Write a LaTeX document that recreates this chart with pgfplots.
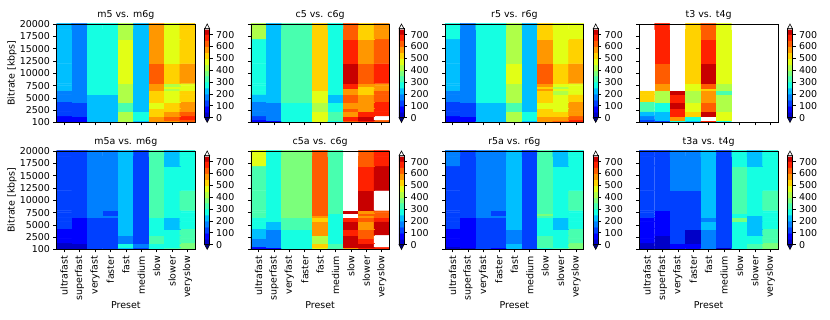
\documentclass[border=0pt]{standalone}
\usepackage{pgfplots}
\pgfplotsset{compat=1.18}
\usepackage{fontspec}
\setmainfont{DejaVu Sans}
\newcommand{\fs}{\fontsize{9.5pt}{11pt}\selectfont}
\definecolor{cunder}{RGB}{0,0,128}
\pgfplotsset{
  colormap={cjet}{
    rgb255(0pt)=(0,0,200) rgb255(49.9pt)=(0,0,200)
    rgb255(50pt)=(0,0,255) rgb255(99.9pt)=(0,0,255)
    rgb255(100pt)=(0,64,255) rgb255(149.9pt)=(0,64,255)
    rgb255(150pt)=(0,128,255) rgb255(199.9pt)=(0,128,255)
    rgb255(200pt)=(0,191,255) rgb255(249.9pt)=(0,191,255)
    rgb255(250pt)=(21,255,226) rgb255(299.9pt)=(21,255,226)
    rgb255(300pt)=(72,255,175) rgb255(349.9pt)=(72,255,175)
    rgb255(350pt)=(123,255,123) rgb255(399.9pt)=(123,255,123)
    rgb255(400pt)=(175,255,72) rgb255(449.9pt)=(175,255,72)
    rgb255(450pt)=(226,255,21) rgb255(499.9pt)=(226,255,21)
    rgb255(500pt)=(255,210,0) rgb255(549.9pt)=(255,210,0)
    rgb255(550pt)=(255,151,0) rgb255(599.9pt)=(255,151,0)
    rgb255(600pt)=(255,92,0) rgb255(649.9pt)=(255,92,0)
    rgb255(650pt)=(255,33,0) rgb255(699.9pt)=(255,33,0)
    rgb255(700pt)=(200,0,0) rgb255(749.9pt)=(200,0,0)
    rgb255(750pt)=(255,255,255) rgb255(800pt)=(255,255,255)
  },
  hm/.style={
    anchor=south west, scale only axis, width=138.7bp, height=98.3bp,
    xmin=-0.5, xmax=8.5, ymin=100, ymax=20000,
    xtick={0,1,2,3,4,5,6,7,8},
    ytick={100,2500,5000,7500,10000,12500,15000,17500,20000},
    tick align=outside, xtick pos=bottom, ytick pos=left,
    major tick length=3bp,
    every tick/.style={black, line width=0.6bp},
    axis line style={line width=0.6bp},
    axis on top,
    scaled y ticks=false,
    tick label style={font=\fs},
    label style={font=\fs},
    every axis title/.style={font=\fs, at={(axis description cs:0.5,1)}, anchor=base, yshift=6bp},
    xticklabels={}, yticklabels={},
    colormap name=cjet, point meta min=0, point meta max=800,
    colorbar,
    colorbar shift/.style={xshift=9.5bp, yshift=-4.75bp},
    colorbar style={
      at={(parent axis.north east)}, anchor=north west,
      scale only axis, width=5bp, height=88.9bp,
      ymin=0, ymax=750,
      ytick={0,100,200,300,400,500,600,700},
      yticklabels={0,100,200,300,400,500,600,700},
      tick align=outside, major tick length=3bp,
      ytick pos=right, yticklabel pos=right,
      every tick/.style={black, line width=0.6bp},
      axis line style={line width=0.6bp},
      tick label style={font=\fs},
      extra description/.code={
        \filldraw[fill=cunder, draw=black, line width=0.6bp] (axis description cs:0,0) -- (axis description cs:1,0) -- (axis description cs:0.5,-0.0534) -- cycle;
        \filldraw[fill=white, draw=black, line width=0.6bp] (axis description cs:0,1) -- (axis description cs:1,1) -- (axis description cs:0.5,1.0534) -- cycle;
      },
    },
  },
  hmleft/.style={yticklabels={100,2500,5000,7500,10000,12500,15000,17500,20000},
    ylabel={Bitrate [kbps]}, ylabel style={at={(axis description cs:-0.321,0.5)}, anchor=center}},
  hmbottom/.style={xticklabels={ultrafast,superfast,veryfast,faster,fast,medium,slow,slower,veryslow},
    xticklabel style={rotate=90, anchor=east},
    xlabel={Preset}, xlabel style={at={(axis description cs:0.5,-0.567)}, anchor=center}},
  cells/.style={matrix plot*, mesh/cols=9, mesh/rows=14, point meta=explicit},
}
\begin{document}
\begin{tikzpicture}
\useasboundingbox (0,0) rectangle (830bp,320bp);
% ---------------- m5 vs. m6g
\begin{axis}[hm, hmleft, at={(56.5bp,197.7bp)}, title={m5 vs. m6g}]
\addplot[cells] coordinates {
(0,150)[75] (1,150)[75] (2,150)[225] (3,150)[225] (4,150)[425] (5,150)[225] (6,150)[575] (7,150)[575] (8,150)[625]
(0,1050)[75] (1,1050)[75] (2,1050)[225] (3,1050)[225] (4,1050)[425] (5,1050)[275] (6,1050)[575] (7,1050)[625] (8,1050)[675]
(0,1750)[125] (1,1750)[125] (2,1750)[225] (3,1750)[225] (4,1750)[425] (5,1750)[275] (6,1750)[525] (7,1750)[575] (8,1750)[625]
(0,2750)[125] (1,2750)[125] (2,2750)[225] (3,2750)[225] (4,2750)[325] (5,2750)[225] (6,2750)[525] (7,2750)[525] (8,2750)[575]
(0,3250)[125] (1,3250)[125] (2,3250)[225] (3,3250)[225] (4,3250)[325] (5,3250)[225] (6,3250)[475] (7,3250)[525] (8,3250)[575]
(0,5250)[175] (1,5250)[175] (2,5250)[225] (3,5250)[225] (4,5250)[425] (5,5250)[225] (6,5250)[525] (7,5250)[475] (8,5250)[525]
(0,6250)[175] (1,6250)[175] (2,6250)[275] (3,6250)[275] (4,6250)[425] (5,6250)[225] (6,6250)[525] (7,6250)[475] (8,6250)[525]
(0,6750)[225] (1,6750)[175] (2,6750)[275] (3,6750)[275] (4,6750)[425] (5,6750)[225] (6,6750)[575] (7,6750)[425] (8,6750)[475]
(0,7250)[225] (1,7250)[175] (2,7250)[275] (3,7250)[275] (4,7250)[425] (5,7250)[225] (6,7250)[575] (7,7250)[475] (8,7250)[475]
(0,7750)[225] (1,7750)[175] (2,7750)[275] (3,7750)[275] (4,7750)[425] (5,7750)[225] (6,7750)[575] (7,7750)[425] (8,7750)[475]
(0,8250)[225] (1,8250)[175] (2,8250)[275] (3,8250)[275] (4,8250)[475] (5,8250)[225] (6,8250)[625] (7,8250)[525] (8,8250)[575]
(0,15750)[225] (1,15750)[175] (2,15750)[275] (3,15750)[275] (4,15750)[475] (5,15750)[225] (6,15750)[575] (7,15750)[475] (8,15750)[525]
(0,18250)[225] (1,18250)[175] (2,18250)[275] (3,18250)[275] (4,18250)[425] (5,18250)[225] (6,18250)[575] (7,18250)[475] (8,18250)[525]
(0,19500)[225] (1,19500)[175] (2,19500)[275] (3,19500)[275] (4,19500)[425] (5,19500)[225] (6,19500)[575] (7,19500)[475] (8,19500)[525]
};
\end{axis}
% ---------------- c5 vs. c6g
\begin{axis}[hm, at={(250.8bp,197.7bp)}, title={c5 vs. c6g}]
\addplot[cells] coordinates {
(0,150)[75] (1,150)[75] (2,150)[275] (3,150)[275] (4,150)[475] (5,150)[275] (6,150)[625] (7,150)[675] (8,150)[625]
(0,1050)[125] (1,1050)[175] (2,1050)[275] (3,1050)[275] (4,1050)[475] (5,1050)[325] (6,1050)[675] (7,1050)[725] (8,1050)[800]
(0,1750)[175] (1,1750)[175] (2,1750)[275] (3,1750)[275] (4,1750)[475] (5,1750)[325] (6,1750)[575] (7,1750)[675] (8,1750)[675]
(0,2750)[175] (1,2750)[175] (2,2750)[275] (3,2750)[275] (4,2750)[425] (5,2750)[275] (6,2750)[625] (7,2750)[575] (8,2750)[675]
(0,3250)[175] (1,3250)[175] (2,3250)[275] (3,3250)[275] (4,3250)[425] (5,3250)[275] (6,3250)[575] (7,3250)[575] (8,3250)[675]
(0,5250)[225] (1,5250)[225] (2,5250)[325] (3,5250)[325] (4,5250)[475] (5,5250)[225] (6,5250)[625] (7,5250)[575] (8,5250)[625]
(0,6250)[275] (1,6250)[225] (2,6250)[325] (3,6250)[325] (4,6250)[475] (5,6250)[275] (6,6250)[575] (7,6250)[525] (8,6250)[625]
(0,6750)[275] (1,6750)[225] (2,6750)[325] (3,6750)[325] (4,6750)[525] (5,6750)[275] (6,6750)[575] (7,6750)[525] (8,6750)[575]
(0,7250)[275] (1,7250)[225] (2,7250)[325] (3,7250)[325] (4,7250)[525] (5,7250)[275] (6,7250)[675] (7,7250)[525] (8,7250)[575]
(0,7750)[275] (1,7750)[225] (2,7750)[325] (3,7750)[325] (4,7750)[525] (5,7750)[275] (6,7750)[675] (7,7750)[575] (8,7750)[575]
(0,8250)[275] (1,8250)[225] (2,8250)[325] (3,8250)[325] (4,8250)[525] (5,8250)[275] (6,8250)[725] (7,8250)[625] (8,8250)[675]
(0,15750)[275] (1,15750)[225] (2,15750)[325] (3,15750)[325] (4,15750)[525] (5,15750)[275] (6,15750)[675] (7,15750)[575] (8,15750)[625]
(0,18250)[425] (1,18250)[225] (2,18250)[325] (3,18250)[325] (4,18250)[525] (5,18250)[275] (6,18250)[625] (7,18250)[525] (8,18250)[575]
(0,19500)[425] (1,19500)[225] (2,19500)[325] (3,19500)[325] (4,19500)[525] (5,19500)[275] (6,19500)[625] (7,19500)[525] (8,19500)[575]
};
\end{axis}
% ---------------- r5 vs. r6g
\begin{axis}[hm, at={(445bp,197.7bp)}, title={r5 vs. r6g}]
\addplot[cells] coordinates {
(0,150)[75] (1,150)[75] (2,150)[225] (3,150)[225] (4,150)[425] (5,150)[225] (6,150)[575] (7,150)[625] (8,150)[675]
(0,1050)[75] (1,1050)[75] (2,1050)[225] (3,1050)[225] (4,1050)[425] (5,1050)[275] (6,1050)[575] (7,1050)[575] (8,1050)[625]
(0,1750)[125] (1,1750)[125] (2,1750)[225] (3,1750)[225] (4,1750)[425] (5,1750)[275] (6,1750)[525] (7,1750)[525] (8,1750)[575]
(0,2750)[125] (1,2750)[125] (2,2750)[225] (3,2750)[225] (4,2750)[325] (5,2750)[225] (6,2750)[525] (7,2750)[475] (8,2750)[575]
(0,3250)[125] (1,3250)[125] (2,3250)[225] (3,3250)[225] (4,3250)[325] (5,3250)[225] (6,3250)[475] (7,3250)[475] (8,3250)[575]
(0,5250)[175] (1,5250)[175] (2,5250)[275] (3,5250)[275] (4,5250)[425] (5,5250)[225] (6,5250)[525] (7,5250)[475] (8,5250)[525]
(0,6250)[175] (1,6250)[175] (2,6250)[275] (3,6250)[275] (4,6250)[425] (5,6250)[225] (6,6250)[525] (7,6250)[425] (8,6250)[475]
(0,6750)[225] (1,6750)[175] (2,6750)[275] (3,6750)[275] (4,6750)[425] (5,6750)[225] (6,6750)[575] (7,6750)[475] (8,6750)[475]
(0,7250)[225] (1,7250)[175] (2,7250)[275] (3,7250)[275] (4,7250)[425] (5,7250)[225] (6,7250)[525] (7,7250)[425] (8,7250)[475]
(0,7750)[225] (1,7750)[175] (2,7750)[275] (3,7750)[275] (4,7750)[425] (5,7750)[225] (6,7750)[575] (7,7750)[475] (8,7750)[475]
(0,8250)[225] (1,8250)[175] (2,8250)[275] (3,8250)[275] (4,8250)[475] (5,8250)[225] (6,8250)[625] (7,8250)[525] (8,8250)[575]
(0,15750)[225] (1,15750)[175] (2,15750)[275] (3,15750)[275] (4,15750)[425] (5,15750)[225] (6,15750)[575] (7,15750)[475] (8,15750)[525]
(0,18250)[275] (1,18250)[175] (2,18250)[275] (3,18250)[275] (4,18250)[425] (5,18250)[225] (6,18250)[525] (7,18250)[475] (8,18250)[475]
(0,19500)[275] (1,19500)[175] (2,19500)[275] (3,19500)[275] (4,19500)[425] (5,19500)[225] (6,19500)[525] (7,19500)[475] (8,19500)[475]
};
\end{axis}
% ---------------- t3 vs. t4g
\begin{axis}[hm, at={(639.3bp,197.7bp)}, title={t3 vs. t4g}]
\addplot[cells] coordinates {
(0,150)[125] (1,150)[125] (2,150)[275] (3,150)[225] (4,150)[675] (5,150)[275] (6,150)[800] (7,150)[800] (8,150)[800]
(0,1050)[175] (1,1050)[225] (2,1050)[575] (3,1050)[275] (4,1050)[800] (5,1050)[475] (6,1050)[800] (7,1050)[800] (8,1050)[800]
(0,1750)[225] (1,1750)[225] (2,1750)[675] (3,1750)[525] (4,1750)[725] (5,1750)[475] (6,1750)[800] (7,1750)[800] (8,1750)[800]
(0,2750)[325] (1,2750)[275] (2,2750)[675] (3,2750)[475] (4,2750)[625] (5,2750)[425] (6,2750)[800] (7,2750)[800] (8,2750)[800]
(0,3250)[325] (1,3250)[275] (2,3250)[725] (3,3250)[475] (4,3250)[625] (5,3250)[425] (6,3250)[800] (7,3250)[800] (8,3250)[800]
(0,5250)[525] (1,5250)[425] (2,5250)[675] (3,5250)[425] (4,5250)[575] (5,5250)[425] (6,5250)[800] (7,5250)[800] (8,5250)[800]
(0,6250)[525] (1,6250)[425] (2,6250)[725] (3,6250)[425] (4,6250)[575] (5,6250)[325] (6,6250)[800] (7,6250)[800] (8,6250)[800]
(0,6750)[800] (1,6750)[575] (2,6750)[800] (3,6750)[475] (4,6750)[525] (5,6750)[425] (6,6750)[800] (7,6750)[800] (8,6750)[800]
(0,7250)[800] (1,7250)[575] (2,7250)[800] (3,7250)[475] (4,7250)[625] (5,7250)[425] (6,7250)[800] (7,7250)[800] (8,7250)[800]
(0,7750)[800] (1,7750)[575] (2,7750)[800] (3,7750)[475] (4,7750)[625] (5,7750)[425] (6,7750)[800] (7,7750)[800] (8,7750)[800]
(0,8250)[800] (1,8250)[625] (2,8250)[800] (3,8250)[525] (4,8250)[725] (5,8250)[475] (6,8250)[800] (7,8250)[800] (8,8250)[800]
(0,15750)[800] (1,15750)[675] (2,15750)[800] (3,15750)[525] (4,15750)[675] (5,15750)[475] (6,15750)[800] (7,15750)[800] (8,15750)[800]
(0,18250)[800] (1,18250)[675] (2,18250)[800] (3,18250)[525] (4,18250)[625] (5,18250)[475] (6,18250)[800] (7,18250)[800] (8,18250)[800]
(0,19500)[800] (1,19500)[675] (2,19500)[800] (3,19500)[525] (4,19500)[625] (5,19500)[475] (6,19500)[800] (7,19500)[800] (8,19500)[800]
};
\end{axis}
% ---------------- m5a vs. m6g
\begin{axis}[hm, hmleft, hmbottom, at={(56.5bp,70.7bp)}, title={m5a vs. m6g}]
\addplot[cells] coordinates {
(0,150)[25] (1,150)[25] (2,150)[125] (3,150)[125] (4,150)[225] (5,150)[125] (6,150)[275] (7,150)[325] (8,150)[375]
(0,1050)[25] (1,1050)[25] (2,1050)[125] (3,1050)[125] (4,1050)[275] (5,1050)[175] (6,1050)[275] (7,1050)[275] (8,1050)[375]
(0,1750)[75] (1,1750)[75] (2,1750)[125] (3,1750)[125] (4,1750)[175] (5,1750)[125] (6,1750)[325] (7,1750)[275] (8,1750)[325]
(0,2750)[75] (1,2750)[75] (2,2750)[125] (3,2750)[125] (4,2750)[175] (5,2750)[125] (6,2750)[325] (7,2750)[275] (8,2750)[325]
(0,3250)[75] (1,3250)[75] (2,3250)[125] (3,3250)[125] (4,3250)[225] (5,3250)[125] (6,3250)[275] (7,3250)[275] (8,3250)[325]
(0,5250)[125] (1,5250)[75] (2,5250)[125] (3,5250)[125] (4,5250)[225] (5,5250)[125] (6,5250)[275] (7,5250)[225] (8,5250)[275]
(0,6250)[125] (1,6250)[75] (2,6250)[125] (3,6250)[125] (4,6250)[225] (5,6250)[125] (6,6250)[275] (7,6250)[225] (8,6250)[275]
(0,6750)[125] (1,6750)[125] (2,6750)[175] (3,6750)[175] (4,6750)[225] (5,6750)[125] (6,6750)[325] (7,6750)[275] (8,6750)[275]
(0,7250)[125] (1,7250)[125] (2,7250)[175] (3,7250)[125] (4,7250)[225] (5,7250)[125] (6,7250)[325] (7,7250)[275] (8,7250)[275]
(0,7750)[125] (1,7750)[125] (2,7750)[175] (3,7750)[125] (4,7750)[225] (5,7750)[125] (6,7750)[325] (7,7750)[275] (8,7750)[275]
(0,8250)[125] (1,8250)[125] (2,8250)[175] (3,8250)[175] (4,8250)[225] (5,8250)[125] (6,8250)[325] (7,8250)[275] (8,8250)[325]
(0,15750)[125] (1,15750)[125] (2,15750)[175] (3,15750)[175] (4,15750)[225] (5,15750)[125] (6,15750)[325] (7,15750)[275] (8,15750)[275]
(0,18250)[125] (1,18250)[125] (2,18250)[175] (3,18250)[175] (4,18250)[225] (5,18250)[125] (6,18250)[325] (7,18250)[225] (8,18250)[275]
(0,19500)[125] (1,19500)[125] (2,19500)[175] (3,19500)[175] (4,19500)[225] (5,19500)[125] (6,19500)[325] (7,19500)[225] (8,19500)[275]
};
\end{axis}
% ---------------- c5a vs. c6g
\begin{axis}[hm, hmbottom, at={(250.8bp,70.7bp)}, title={c5a vs. c6g}]
\addplot[cells] coordinates {
(0,150)[75] (1,150)[75] (2,150)[275] (3,150)[275] (4,150)[475] (5,150)[325] (6,150)[575] (7,150)[675] (8,150)[675]
(0,1050)[175] (1,1050)[175] (2,1050)[275] (3,1050)[275] (4,1050)[525] (5,1050)[325] (6,1050)[725] (7,1050)[725] (8,1050)[800]
(0,1750)[175] (1,1750)[175] (2,1750)[275] (3,1750)[275] (4,1750)[425] (5,1750)[275] (6,1750)[725] (7,1750)[675] (8,1750)[800]
(0,2750)[225] (1,2750)[175] (2,2750)[275] (3,2750)[275] (4,2750)[425] (5,2750)[275] (6,2750)[725] (7,2750)[625] (8,2750)[800]
(0,3250)[225] (1,3250)[175] (2,3250)[275] (3,3250)[275] (4,3250)[575] (5,3250)[275] (6,3250)[675] (7,3250)[625] (8,3250)[725]
(0,5250)[275] (1,5250)[225] (2,5250)[325] (3,5250)[325] (4,5250)[575] (5,5250)[275] (6,5250)[725] (7,5250)[575] (8,5250)[725]
(0,6250)[275] (1,6250)[275] (2,6250)[325] (3,6250)[325] (4,6250)[525] (5,6250)[275] (6,6250)[675] (7,6250)[625] (8,6250)[675]
(0,6750)[325] (1,6750)[275] (2,6750)[375] (3,6750)[375] (4,6750)[575] (5,6750)[275] (6,6750)[800] (7,6750)[575] (8,6750)[625]
(0,7250)[325] (1,7250)[275] (2,7250)[375] (3,7250)[375] (4,7250)[625] (5,7250)[275] (6,7250)[800] (7,7250)[625] (8,7250)[625]
(0,7750)[325] (1,7750)[275] (2,7750)[375] (3,7750)[375] (4,7750)[625] (5,7750)[325] (6,7750)[725] (7,7750)[575] (8,7750)[625]
(0,8250)[325] (1,8250)[275] (2,8250)[375] (3,8250)[375] (4,8250)[625] (5,8250)[325] (6,8250)[800] (7,8250)[725] (8,8250)[800]
(0,15750)[325] (1,15750)[275] (2,15750)[375] (3,15750)[375] (4,15750)[625] (5,15750)[325] (6,15750)[800] (7,15750)[675] (8,15750)[725]
(0,18250)[475] (1,18250)[275] (2,18250)[375] (3,18250)[375] (4,18250)[625] (5,18250)[325] (6,18250)[800] (7,18250)[625] (8,18250)[675]
(0,19500)[475] (1,19500)[275] (2,19500)[375] (3,19500)[375] (4,19500)[625] (5,19500)[325] (6,19500)[800] (7,19500)[625] (8,19500)[675]
};
\end{axis}
% ---------------- r5a vs. r6g
\begin{axis}[hm, hmbottom, at={(445bp,70.7bp)}, title={r5a vs. r6g}]
\addplot[cells] coordinates {
(0,150)[25] (1,150)[25] (2,150)[125] (3,150)[75] (4,150)[225] (5,150)[125] (6,150)[275] (7,150)[325] (8,150)[375]
(0,1050)[75] (1,1050)[75] (2,1050)[125] (3,1050)[125] (4,1050)[225] (5,1050)[125] (6,1050)[325] (7,1050)[275] (8,1050)[375]
(0,1750)[75] (1,1750)[75] (2,1750)[125] (3,1750)[125] (4,1750)[175] (5,1750)[125] (6,1750)[325] (7,1750)[275] (8,1750)[325]
(0,2750)[75] (1,2750)[75] (2,2750)[125] (3,2750)[125] (4,2750)[175] (5,2750)[125] (6,2750)[325] (7,2750)[275] (8,2750)[325]
(0,3250)[75] (1,3250)[75] (2,3250)[125] (3,3250)[125] (4,3250)[175] (5,3250)[125] (6,3250)[275] (7,3250)[275] (8,3250)[325]
(0,5250)[125] (1,5250)[75] (2,5250)[125] (3,5250)[125] (4,5250)[225] (5,5250)[125] (6,5250)[275] (7,5250)[225] (8,5250)[275]
(0,6250)[125] (1,6250)[75] (2,6250)[125] (3,6250)[125] (4,6250)[225] (5,6250)[125] (6,6250)[275] (7,6250)[225] (8,6250)[275]
(0,6750)[125] (1,6750)[125] (2,6750)[175] (3,6750)[175] (4,6750)[225] (5,6750)[125] (6,6750)[325] (7,6750)[275] (8,6750)[275]
(0,7250)[125] (1,7250)[125] (2,7250)[175] (3,7250)[125] (4,7250)[225] (5,7250)[125] (6,7250)[375] (7,7250)[275] (8,7250)[275]
(0,7750)[125] (1,7750)[125] (2,7750)[175] (3,7750)[125] (4,7750)[225] (5,7750)[125] (6,7750)[325] (7,7750)[275] (8,7750)[275]
(0,8250)[125] (1,8250)[125] (2,8250)[175] (3,8250)[175] (4,8250)[225] (5,8250)[125] (6,8250)[325] (7,8250)[275] (8,8250)[325]
(0,15750)[125] (1,15750)[125] (2,15750)[175] (3,15750)[175] (4,15750)[225] (5,15750)[125] (6,15750)[325] (7,15750)[275] (8,15750)[275]
(0,18250)[175] (1,18250)[125] (2,18250)[175] (3,18250)[175] (4,18250)[225] (5,18250)[125] (6,18250)[325] (7,18250)[225] (8,18250)[275]
(0,19500)[175] (1,19500)[125] (2,19500)[175] (3,19500)[175] (4,19500)[225] (5,19500)[125] (6,19500)[325] (7,19500)[225] (8,19500)[275]
};
\end{axis}
% ---------------- t3a vs. t4g
\begin{axis}[hm, hmbottom, at={(639.3bp,70.7bp)}, title={t3a vs. t4g}]
\addplot[cells] coordinates {
(0,150)[25] (1,150)[25] (2,150)[75] (3,150)[75] (4,150)[175] (5,150)[25] (6,150)[275] (7,150)[325] (8,150)[375]
(0,1050)[25] (1,1050)[25] (2,1050)[75] (3,1050)[75] (4,1050)[175] (5,1050)[125] (6,1050)[275] (7,1050)[325] (8,1050)[375]
(0,1750)[75] (1,1750)[25] (2,1750)[125] (3,1750)[25] (4,1750)[175] (5,1750)[125] (6,1750)[275] (7,1750)[275] (8,1750)[325]
(0,2750)[75] (1,2750)[25] (2,2750)[125] (3,2750)[25] (4,2750)[175] (5,2750)[125] (6,2750)[275] (7,2750)[275] (8,2750)[325]
(0,3250)[75] (1,3250)[75] (2,3250)[125] (3,3250)[25] (4,3250)[175] (5,3250)[125] (6,3250)[275] (7,3250)[225] (8,3250)[325]
(0,5250)[75] (1,5250)[75] (2,5250)[125] (3,5250)[125] (4,5250)[225] (5,5250)[125] (6,5250)[275] (7,5250)[225] (8,5250)[275]
(0,6250)[75] (1,6250)[75] (2,6250)[125] (3,6250)[125] (4,6250)[175] (5,6250)[125] (6,6250)[375] (7,6250)[225] (8,6250)[275]
(0,6750)[125] (1,6750)[75] (2,6750)[125] (3,6750)[125] (4,6750)[225] (5,6750)[125] (6,6750)[275] (7,6750)[225] (8,6750)[275]
(0,7250)[125] (1,7250)[75] (2,7250)[125] (3,7250)[125] (4,7250)[225] (5,7250)[125] (6,7250)[275] (7,7250)[275] (8,7250)[275]
(0,7750)[125] (1,7750)[75] (2,7750)[125] (3,7750)[125] (4,7750)[225] (5,7750)[125] (6,7750)[325] (7,7750)[275] (8,7750)[275]
(0,8250)[125] (1,8250)[125] (2,8250)[125] (3,8250)[125] (4,8250)[225] (5,8250)[125] (6,8250)[325] (7,8250)[275] (8,8250)[325]
(0,15750)[125] (1,15750)[125] (2,15750)[175] (3,15750)[175] (4,15750)[225] (5,15750)[125] (6,15750)[325] (7,15750)[275] (8,15750)[275]
(0,18250)[125] (1,18250)[125] (2,18250)[175] (3,18250)[175] (4,18250)[225] (5,18250)[125] (6,18250)[275] (7,18250)[225] (8,18250)[275]
(0,19500)[125] (1,19500)[125] (2,19500)[175] (3,19500)[175] (4,19500)[225] (5,19500)[125] (6,19500)[275] (7,19500)[225] (8,19500)[275]
};
\end{axis}
\end{tikzpicture}
\end{document}
